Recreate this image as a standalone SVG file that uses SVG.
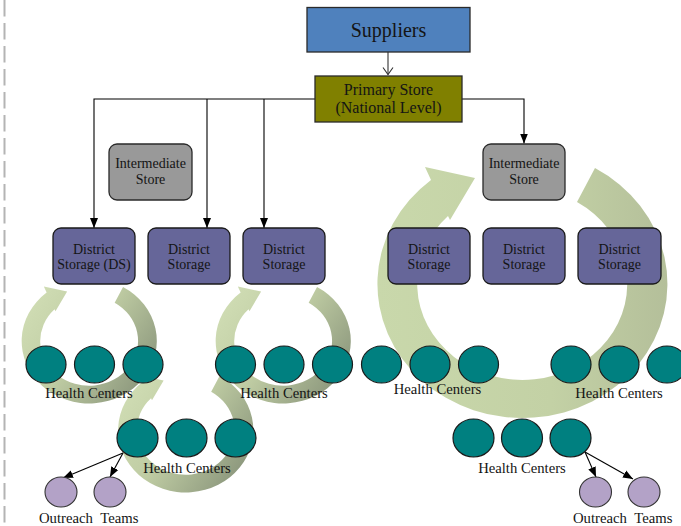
<svg xmlns="http://www.w3.org/2000/svg" xmlns:xlink="http://www.w3.org/1999/xlink" width="681" height="526" viewBox="0 0 681 526">
<style>
text{font-family:"Liberation Serif","Times New Roman",serif;fill:#141414;}
.box{stroke:#2a2a2a;stroke-width:1.3;}
.ds{fill:#666699;stroke:#1a1a1a;stroke-width:1.3;}
.is{fill:#999999;stroke:#2a2a2a;stroke-width:1.3;}
.hc{fill:#008080;stroke:#1a1a1a;stroke-width:1.2;}
.ot{fill:#b3a2c7;stroke:#333;stroke-width:1.1;}
.con{fill:none;stroke:#000;stroke-width:1.1;}
.lbl{font-size:14.7px;text-anchor:middle;}
.dst{font-size:14px;text-anchor:middle;}
</style>
<defs>
<marker id="ah" markerUnits="userSpaceOnUse" markerWidth="10" markerHeight="10" viewBox="0 0 10 10" refX="10" refY="5" orient="auto">
<path d="M0,1 L10,5 L0,9 Z" fill="#000"/>
</marker>
<linearGradient id="gSmall" x1="0" y1="0.2" x2="1" y2="0.8">
<stop offset="0" stop-color="#d0ddb4"/>
<stop offset="0.45" stop-color="#bfcca3"/>
<stop offset="1" stop-color="#879279"/>
</linearGradient>
<linearGradient id="gBig" x1="0" y1="0" x2="1" y2="0">
<stop offset="0" stop-color="#c9d8ab"/>
<stop offset="0.6" stop-color="#c3d1a5"/>
<stop offset="1" stop-color="#b4bf9a"/>
</linearGradient>
<path id="carrow" d="M72,-116 A145,134 0 1 1 -92,-104 L-98,-117 L-48,-106 L-73,-64 L-75,-68 A105,96 0 1 0 54,-82 Z"/>
</defs>

<line x1="4.5" y1="0" x2="4.5" y2="526" stroke="#b4b4b4" stroke-width="2" stroke-dasharray="16.5 6.5"/>

<g id="cycles">
<use xlink:href="#carrow" href="#carrow" transform="translate(523,284)" fill="url(#gBig)"/>
<use xlink:href="#carrow" href="#carrow" transform="translate(89.5,341) scale(0.466)" fill="url(#gSmall)"/>
<use xlink:href="#carrow" href="#carrow" transform="translate(283.5,341) scale(0.466)" fill="url(#gSmall)"/>
<use xlink:href="#carrow" href="#carrow" transform="translate(186,430) scale(0.466)" fill="url(#gSmall)"/>
</g>

<g id="connectors">
<line x1="388" y1="52" x2="388" y2="74.5" stroke="#333" stroke-width="1.1"/>
<path d="M383,67.5 L388,74.5 L393,67.5" fill="none" stroke="#333" stroke-width="1.1"/>
<path class="con" d="M315,99 H94 V228" marker-end="url(#ah)"/>
<path class="con" d="M207,99 V228" marker-end="url(#ah)"/>
<path class="con" d="M264,99 V228" marker-end="url(#ah)"/>
<path class="con" d="M462,99 H524 V143.5" marker-end="url(#ah)"/>
<line class="con" x1="123" y1="453" x2="63" y2="478" marker-end="url(#ah)"/>
<line class="con" x1="123" y1="453" x2="110" y2="477" marker-end="url(#ah)"/>
<line class="con" x1="585" y1="452" x2="596" y2="477" marker-end="url(#ah)"/>
<line class="con" x1="585" y1="452" x2="633" y2="479" marker-end="url(#ah)"/>
</g>

<g id="suppliers">
<rect class="box" x="307" y="7.5" width="163" height="44.5" fill="#4f81bd"/>
<text x="388.5" y="37" font-size="20" text-anchor="middle">Suppliers</text>
</g>

<g id="primary-store">
<rect class="box" x="315" y="76" width="147" height="46" fill="#808000"/>
<text x="388.5" y="95" font-size="16" text-anchor="middle">Primary Store</text>
<text x="388.5" y="113" font-size="16" text-anchor="middle">(National Level)</text>
</g>

<g id="intermediate-left">
<rect class="is" x="109" y="144" width="83" height="56" rx="8"/>
<text class="dst" x="150.5" y="168" font-size="14.5">Intermediate</text>
<text class="dst" x="150.5" y="184">Store</text>
</g>

<g id="intermediate-right">
<rect class="is" x="483" y="144" width="82" height="56" rx="8"/>
<text class="dst" x="524" y="168" font-size="14.5">Intermediate</text>
<text class="dst" x="524" y="184">Store</text>
</g>

<g id="ds1">
<rect class="ds" x="53" y="228" width="82" height="56" rx="8"/>
<text class="dst" x="94" y="254">District</text>
<text class="dst" x="94" y="268.5">Storage (DS)</text>
</g>
<g id="ds2">
<rect class="ds" x="148" y="228" width="82" height="56" rx="8"/>
<text class="dst" x="189" y="254">District</text>
<text class="dst" x="189" y="268.5">Storage</text>
</g>
<g id="ds3">
<rect class="ds" x="243" y="228" width="82" height="56" rx="8"/>
<text class="dst" x="284" y="254">District</text>
<text class="dst" x="284" y="268.5">Storage</text>
</g>
<g id="ds4">
<rect class="ds" x="388" y="228" width="82" height="56" rx="8"/>
<text class="dst" x="429" y="254">District</text>
<text class="dst" x="429" y="268.5">Storage</text>
</g>
<g id="ds5">
<rect class="ds" x="483" y="228" width="82" height="56" rx="8"/>
<text class="dst" x="524" y="254">District</text>
<text class="dst" x="524" y="268.5">Storage</text>
</g>
<g id="ds6">
<rect class="ds" x="578" y="228" width="83" height="56" rx="8"/>
<text class="dst" x="619.5" y="254">District</text>
<text class="dst" x="619.5" y="268.5">Storage</text>
</g>

<g id="hc-group1">
<ellipse class="hc" cx="46" cy="364.5" rx="20" ry="18.5"/>
<ellipse class="hc" cx="94.5" cy="364.5" rx="20" ry="18.5"/>
<ellipse class="hc" cx="143" cy="364.5" rx="20" ry="18.5"/>
<text class="lbl" x="89" y="398">Health Centers</text>
</g>
<g id="hc-group2">
<ellipse class="hc" cx="235.5" cy="364.5" rx="20" ry="18.5"/>
<ellipse class="hc" cx="284" cy="364.5" rx="20" ry="18.5"/>
<ellipse class="hc" cx="332.5" cy="364.5" rx="20" ry="18.5"/>
<text class="lbl" x="284" y="398">Health Centers</text>
</g>
<g id="hc-group3">
<ellipse class="hc" cx="381.5" cy="364.5" rx="20" ry="18.5"/>
<ellipse class="hc" cx="430" cy="364.5" rx="20" ry="18.5"/>
<ellipse class="hc" cx="478.5" cy="364.5" rx="20" ry="18.5"/>
<text class="lbl" x="437.5" y="394">Health Centers</text>
</g>
<g id="hc-group4">
<ellipse class="hc" cx="571" cy="364.5" rx="20" ry="18.5"/>
<ellipse class="hc" cx="619" cy="364.5" rx="20" ry="18.5"/>
<ellipse class="hc" cx="667" cy="364.5" rx="20" ry="18.5"/>
<text class="lbl" x="619" y="398">Health Centers</text>
</g>
<g id="hc-group5">
<ellipse class="hc" cx="137.5" cy="438" rx="20.5" ry="19"/>
<ellipse class="hc" cx="186.5" cy="438" rx="20.5" ry="19"/>
<ellipse class="hc" cx="235.5" cy="438" rx="20.5" ry="19"/>
<text class="lbl" x="187" y="473">Health Centers</text>
</g>
<g id="hc-group6">
<ellipse class="hc" cx="473.5" cy="438" rx="20.5" ry="19"/>
<ellipse class="hc" cx="522" cy="438" rx="20.5" ry="19"/>
<ellipse class="hc" cx="570.5" cy="438" rx="20.5" ry="19"/>
<text class="lbl" x="522" y="473">Health Centers</text>
</g>

<g id="outreach-left">
<ellipse class="ot" cx="61" cy="492" rx="16" ry="15"/>
<ellipse class="ot" cx="110" cy="492" rx="16" ry="15"/>
<text x="39" y="523" font-size="14.7" word-spacing="4">Outreach Teams</text>
</g>
<g id="outreach-right">
<ellipse class="ot" cx="595.5" cy="492" rx="16" ry="15"/>
<ellipse class="ot" cx="644" cy="492" rx="16" ry="15"/>
<text x="573" y="523" font-size="14.7" word-spacing="4">Outreach Teams</text>
</g>
</svg>
